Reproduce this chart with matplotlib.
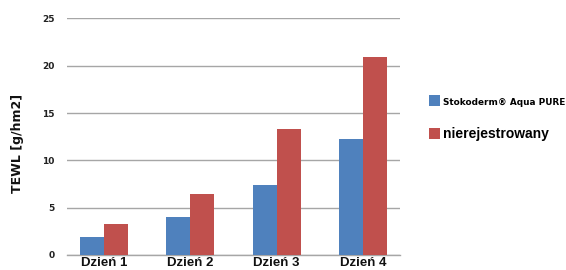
import matplotlib
matplotlib.use("Agg")
import matplotlib.pyplot as plt
import numpy as np

# dane
days = ["Dzień 1", "Dzień 2", "Dzień 3", "Dzień 4"]
stokoderm = [1.9, 4.0, 7.4, 12.3]
nierej = [3.3, 6.4, 13.3, 20.9]
series_names = ["Stokoderm® Aqua PURE", "nierejestrowany"]
yticks = [0, 5, 10, 15, 20, 25]

BLUE = "#4F81BD"
RED = "#C0504D"
GRID = "#A6A6A6"

fig = plt.figure(figsize=(5.66, 2.70), dpi=100)
ax = fig.add_axes([0.1184, 0.0556, 0.5883, 0.876])

x = np.arange(len(days))
w = 0.278
ax.bar(x - w / 2, stokoderm, width=w, color=BLUE, label=series_names[0], zorder=3)
ax.bar(x + w / 2, nierej, width=w, color=RED, label=series_names[1], zorder=3)

ax.set_xlim(-0.43, 3.43)
ax.set_ylim(0, 25)
ax.set_yticks(yticks)
ax.set_yticklabels([str(v) for v in yticks], fontsize=6.5, fontweight="bold",
                   family="DejaVu Sans", color="#222222")
ax.set_xticks(x)
ax.set_xticklabels(days, fontsize=9.5, fontweight="bold", family="Liberation Sans",
                   color="#111111")
ax.tick_params(axis="both", length=0)
ax.tick_params(axis="y", pad=9)
ax.tick_params(axis="x", pad=1.5)
ax.yaxis.grid(True, color=GRID, linewidth=1.0, zorder=0)
for s in ("top", "right", "left"):
    ax.spines[s].set_visible(False)
ax.spines["bottom"].set_color(GRID)
ax.spines["bottom"].set_linewidth(1.0)

ax.set_ylabel("TEWL [g/hm2]", fontsize=9, fontweight="bold", family="DejaVu Sans",
              color="#111111")
ax.yaxis.set_label_coords(-0.128, 0.47)

leg = ax.legend(loc="upper left", bbox_to_anchor=(1.07, 0.70), frameon=False,
                handlelength=0.8, handleheight=0.8, handletextpad=0.2,
                labelspacing=1.45, borderaxespad=0)
txts = leg.get_texts()
txts[0].set_fontsize(6.4)
txts[0].set_fontweight("bold")
txts[0].set_family("DejaVu Sans")
txts[1].set_fontsize(10)
txts[1].set_fontweight("bold")
txts[1].set_family("Liberation Sans")

fig.savefig("out.png", dpi=100)
